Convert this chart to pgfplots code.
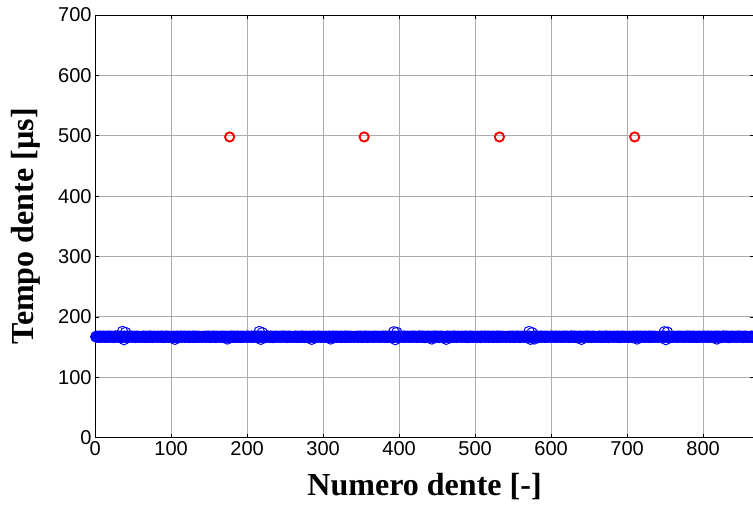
\documentclass[border=0pt]{standalone}
\usepackage{fontspec}
\setmainfont{Liberation Serif}
\newfontfamily\arialf{Liberation Sans}
\usepackage{pgfplots}
\pgfplotsset{compat=1.18}
\begin{document}
\begin{tikzpicture}
\begin{axis}[name=ax, scale only axis, width=658pt, height=422pt,
  xmin=0, xmax=867, ymin=0, ymax=700,
  xtick={0,100,...,800}, ytick={0,100,...,700},
  grid=major, grid style={gray!65, line width=0.8pt},
  tick align=inside, major tick length=4pt,
  axis line style={black, line width=1pt}, tick style={black, line width=0.6pt},
  ticklabel style={font=\arialf\fontsize{20}{24}\selectfont},
  /pgf/number format/assume math mode=true,
  xlabel={\bfseries Numero dente [-]}, ylabel={\bfseries Tempo dente [µs]},
  label style={font=\fontsize{32}{38}\selectfont},
  xlabel style={at={(axis description cs:0.5,-0.1374)}, anchor=base},
  ylabel style={at={(axis description cs:-0.1049,0.5)}, anchor=center},
  clip=true]
\addplot[only marks, mark=o, mark size=5.3pt, blue, mark options={line width=1pt}] coordinates {
(1,167.0) (2,167.6) (3,166.5) (4,167.2) (5,166.8) (6,167.9) (7,166.3) (8,167.4) (9,167.1) (10,166.6) (11,167.8) (12,166.9) (13,167.3) (14,166.2) (15,167.5) (16,167.0) (17,166.7) (18,168.0) (19,166.4) (20,167.3)
(21,166.9) (22,167.7) (23,166.6) (24,167.1) (25,166.1) (26,167.6) (27,168.1) (28,166.8) (29,167.2) (30,166.4) (31,167.9) (32,166.7) (33,167.5) (34,165.9) (35,167.1) (36,167.4) (37,166.5) (38,167.8) (39,166.6) (40,167.4)
(41,167.2) (42,166.8) (43,167.5) (44,166.3) (45,167.7) (46,166.9) (47,167.1) (48,168.0) (49,166.5) (50,167.3) (51,166.7) (52,167.6) (53,166.2) (54,167.4) (55,166.9) (56,167.8) (57,166.4) (58,167.2) (59,167.0) (60,166.6)
(61,166.7) (62,167.4) (63,166.9) (64,167.8) (65,166.2) (66,167.3) (67,166.6) (68,167.5) (69,167.0) (70,166.3) (71,167.7) (72,166.8) (73,167.9) (74,166.5) (75,167.2) (76,166.1) (77,167.6) (78,166.9) (79,167.4) (80,166.8)
(81,167.3) (82,166.5) (83,167.7) (84,166.9) (85,167.1) (86,166.4) (87,167.8) (88,166.7) (89,167.4) (90,166.0) (91,167.5) (92,167.1) (93,166.6) (94,167.9) (95,166.8) (96,167.3) (97,166.3) (98,167.6) (99,166.9) (100,167.2)
(101,166.8) (102,167.5) (103,166.4) (104,167.6) (105,166.9) (106,167.2) (107,166.1) (108,167.8) (109,166.7) (110,167.4) (111,167.0) (112,166.5) (113,167.9) (114,166.6) (115,167.3) (116,166.9) (117,167.7) (118,166.2) (119,167.5) (120,167.0)
(121,167.1) (122,166.6) (123,167.8) (124,166.3) (125,167.4) (126,167.0) (127,166.7) (128,167.6) (129,166.2) (130,167.9) (131,166.8) (132,167.3) (133,166.5) (134,167.7) (135,167.1) (136,166.4) (137,167.5) (138,166.9) (139,167.2) (140,166.7)
(141,166.6) (142,167.3) (143,167.0) (144,166.8) (145,167.7) (146,166.2) (147,167.5) (148,166.9) (149,167.8) (150,166.5) (151,167.1) (152,166.3) (153,167.6) (154,167.0) (155,166.7) (156,167.9) (157,166.6) (158,167.4) (159,166.1) (160,167.5)
(161,167.4) (162,166.9) (163,167.2) (164,166.5) (165,167.6) (166,167.1) (167,166.4) (168,167.8) (169,166.8) (170,167.3) (171,166.6) (172,167.7) (173,166.9) (174,167.0) (175,166.3) (176,167.5) (177,167.2) (178,166.7) (179,167.9) (180,166.6)
(181,166.9) (182,167.8) (183,166.3) (184,167.5) (185,166.7) (186,167.0) (187,167.9) (188,166.4) (189,167.2) (190,166.8) (191,167.6) (192,166.1) (193,167.4) (194,166.9) (195,167.7) (196,166.5) (197,167.1) (198,167.3) (199,166.6) (200,167.8)
(201,167.0) (202,167.6) (203,166.5) (204,167.2) (205,166.8) (206,167.9) (207,166.3) (208,167.4) (209,167.1) (210,166.6) (211,167.8) (212,166.9) (213,167.3) (214,166.2) (215,167.5) (216,167.0) (217,166.7) (218,168.0) (219,166.4) (220,167.3)
(221,166.9) (222,167.7) (223,166.6) (224,167.1) (225,166.1) (226,167.6) (227,168.1) (228,166.8) (229,167.2) (230,166.4) (231,167.9) (232,166.7) (233,167.5) (234,165.9) (235,167.1) (236,167.4) (237,166.5) (238,167.8) (239,166.6) (240,167.4)
(241,167.2) (242,166.8) (243,167.5) (244,166.3) (245,167.7) (246,166.9) (247,167.1) (248,168.0) (249,166.5) (250,167.3) (251,166.7) (252,167.6) (253,166.2) (254,167.4) (255,166.9) (256,167.8) (257,166.4) (258,167.2) (259,167.0) (260,166.6)
(261,166.7) (262,167.4) (263,166.9) (264,167.8) (265,166.2) (266,167.3) (267,166.6) (268,167.5) (269,167.0) (270,166.3) (271,167.7) (272,166.8) (273,167.9) (274,166.5) (275,167.2) (276,166.1) (277,167.6) (278,166.9) (279,167.4) (280,166.8)
(281,167.3) (282,166.5) (283,167.7) (284,166.9) (285,167.1) (286,166.4) (287,167.8) (288,166.7) (289,167.4) (290,166.0) (291,167.5) (292,167.1) (293,166.6) (294,167.9) (295,166.8) (296,167.3) (297,166.3) (298,167.6) (299,166.9) (300,167.2)
(301,166.8) (302,167.5) (303,166.4) (304,167.6) (305,166.9) (306,167.2) (307,166.1) (308,167.8) (309,166.7) (310,167.4) (311,167.0) (312,166.5) (313,167.9) (314,166.6) (315,167.3) (316,166.9) (317,167.7) (318,166.2) (319,167.5) (320,167.0)
(321,167.1) (322,166.6) (323,167.8) (324,166.3) (325,167.4) (326,167.0) (327,166.7) (328,167.6) (329,166.2) (330,167.9) (331,166.8) (332,167.3) (333,166.5) (334,167.7) (335,167.1) (336,166.4) (337,167.5) (338,166.9) (339,167.2) (340,166.7)
(341,166.6) (342,167.3) (343,167.0) (344,166.8) (345,167.7) (346,166.2) (347,167.5) (348,166.9) (349,167.8) (350,166.5) (351,167.1) (352,166.3) (353,167.6) (354,167.0) (355,166.7) (356,167.9) (357,166.6) (358,167.4) (359,166.1) (360,167.5)
(361,167.4) (362,166.9) (363,167.2) (364,166.5) (365,167.6) (366,167.1) (367,166.4) (368,167.8) (369,166.8) (370,167.3) (371,166.6) (372,167.7) (373,166.9) (374,167.0) (375,166.3) (376,167.5) (377,167.2) (378,166.7) (379,167.9) (380,166.6)
(381,166.9) (382,167.8) (383,166.3) (384,167.5) (385,166.7) (386,167.0) (387,167.9) (388,166.4) (389,167.2) (390,166.8) (391,167.6) (392,166.1) (393,167.4) (394,166.9) (395,167.7) (396,166.5) (397,167.1) (398,167.3) (399,166.6) (400,167.8)
(401,167.0) (402,167.6) (403,166.5) (404,167.2) (405,166.8) (406,167.9) (407,166.3) (408,167.4) (409,167.1) (410,166.6) (411,167.8) (412,166.9) (413,167.3) (414,166.2) (415,167.5) (416,167.0) (417,166.7) (418,168.0) (419,166.4) (420,167.3)
(421,166.9) (422,167.7) (423,166.6) (424,167.1) (425,166.1) (426,167.6) (427,168.1) (428,166.8) (429,167.2) (430,166.4) (431,167.9) (432,166.7) (433,167.5) (434,165.9) (435,167.1) (436,167.4) (437,166.5) (438,167.8) (439,166.6) (440,167.4)
(441,167.2) (442,166.8) (443,167.5) (444,166.3) (445,167.7) (446,166.9) (447,167.1) (448,168.0) (449,166.5) (450,167.3) (451,166.7) (452,167.6) (453,166.2) (454,167.4) (455,166.9) (456,167.8) (457,166.4) (458,167.2) (459,167.0) (460,166.6)
(461,166.7) (462,167.4) (463,166.9) (464,167.8) (465,166.2) (466,167.3) (467,166.6) (468,167.5) (469,167.0) (470,166.3) (471,167.7) (472,166.8) (473,167.9) (474,166.5) (475,167.2) (476,166.1) (477,167.6) (478,166.9) (479,167.4) (480,166.8)
(481,167.3) (482,166.5) (483,167.7) (484,166.9) (485,167.1) (486,166.4) (487,167.8) (488,166.7) (489,167.4) (490,166.0) (491,167.5) (492,167.1) (493,166.6) (494,167.9) (495,166.8) (496,167.3) (497,166.3) (498,167.6) (499,166.9) (500,167.2)
(501,166.8) (502,167.5) (503,166.4) (504,167.6) (505,166.9) (506,167.2) (507,166.1) (508,167.8) (509,166.7) (510,167.4) (511,167.0) (512,166.5) (513,167.9) (514,166.6) (515,167.3) (516,166.9) (517,167.7) (518,166.2) (519,167.5) (520,167.0)
(521,167.1) (522,166.6) (523,167.8) (524,166.3) (525,167.4) (526,167.0) (527,166.7) (528,167.6) (529,166.2) (530,167.9) (531,166.8) (532,167.3) (533,166.5) (534,167.7) (535,167.1) (536,166.4) (537,167.5) (538,166.9) (539,167.2) (540,166.7)
(541,166.6) (542,167.3) (543,167.0) (544,166.8) (545,167.7) (546,166.2) (547,167.5) (548,166.9) (549,167.8) (550,166.5) (551,167.1) (552,166.3) (553,167.6) (554,167.0) (555,166.7) (556,167.9) (557,166.6) (558,167.4) (559,166.1) (560,167.5)
(561,167.4) (562,166.9) (563,167.2) (564,166.5) (565,167.6) (566,167.1) (567,166.4) (568,167.8) (569,166.8) (570,167.3) (571,166.6) (572,167.7) (573,166.9) (574,167.0) (575,166.3) (576,167.5) (577,167.2) (578,166.7) (579,167.9) (580,166.6)
(581,166.9) (582,167.8) (583,166.3) (584,167.5) (585,166.7) (586,167.0) (587,167.9) (588,166.4) (589,167.2) (590,166.8) (591,167.6) (592,166.1) (593,167.4) (594,166.9) (595,167.7) (596,166.5) (597,167.1) (598,167.3) (599,166.6) (600,167.8)
(601,167.0) (602,167.6) (603,166.5) (604,167.2) (605,166.8) (606,167.9) (607,166.3) (608,167.4) (609,167.1) (610,166.6) (611,167.8) (612,166.9) (613,167.3) (614,166.2) (615,167.5) (616,167.0) (617,166.7) (618,168.0) (619,166.4) (620,167.3)
(621,166.9) (622,167.7) (623,166.6) (624,167.1) (625,166.1) (626,167.6) (627,168.1) (628,166.8) (629,167.2) (630,166.4) (631,167.9) (632,166.7) (633,167.5) (634,165.9) (635,167.1) (636,167.4) (637,166.5) (638,167.8) (639,166.6) (640,167.4)
(641,167.2) (642,166.8) (643,167.5) (644,166.3) (645,167.7) (646,166.9) (647,167.1) (648,168.0) (649,166.5) (650,167.3) (651,166.7) (652,167.6) (653,166.2) (654,167.4) (655,166.9) (656,167.8) (657,166.4) (658,167.2) (659,167.0) (660,166.6)
(661,166.7) (662,167.4) (663,166.9) (664,167.8) (665,166.2) (666,167.3) (667,166.6) (668,167.5) (669,167.0) (670,166.3) (671,167.7) (672,166.8) (673,167.9) (674,166.5) (675,167.2) (676,166.1) (677,167.6) (678,166.9) (679,167.4) (680,166.8)
(681,167.3) (682,166.5) (683,167.7) (684,166.9) (685,167.1) (686,166.4) (687,167.8) (688,166.7) (689,167.4) (690,166.0) (691,167.5) (692,167.1) (693,166.6) (694,167.9) (695,166.8) (696,167.3) (697,166.3) (698,167.6) (699,166.9) (700,167.2)
(701,166.8) (702,167.5) (703,166.4) (704,167.6) (705,166.9) (706,167.2) (707,166.1) (708,167.8) (709,166.7) (710,167.4) (711,167.0) (712,166.5) (713,167.9) (714,166.6) (715,167.3) (716,166.9) (717,167.7) (718,166.2) (719,167.5) (720,167.0)
(721,167.1) (722,166.6) (723,167.8) (724,166.3) (725,167.4) (726,167.0) (727,166.7) (728,167.6) (729,166.2) (730,167.9) (731,166.8) (732,167.3) (733,166.5) (734,167.7) (735,167.1) (736,166.4) (737,167.5) (738,166.9) (739,167.2) (740,166.7)
(741,166.6) (742,167.3) (743,167.0) (744,166.8) (745,167.7) (746,166.2) (747,167.5) (748,166.9) (749,167.8) (750,166.5) (751,167.1) (752,166.3) (753,167.6) (754,167.0) (755,166.7) (756,167.9) (757,166.6) (758,167.4) (759,166.1) (760,167.5)
(761,167.4) (762,166.9) (763,167.2) (764,166.5) (765,167.6) (766,167.1) (767,166.4) (768,167.8) (769,166.8) (770,167.3) (771,166.6) (772,167.7) (773,166.9) (774,167.0) (775,166.3) (776,167.5) (777,167.2) (778,166.7) (779,167.9) (780,166.6)
(781,166.9) (782,167.8) (783,166.3) (784,167.5) (785,166.7) (786,167.0) (787,167.9) (788,166.4) (789,167.2) (790,166.8) (791,167.6) (792,166.1) (793,167.4) (794,166.9) (795,167.7) (796,166.5) (797,167.1) (798,167.3) (799,166.6) (800,167.8)
(801,167.0) (802,167.6) (803,166.5) (804,167.2) (805,166.8) (806,167.9) (807,166.3) (808,167.4) (809,167.1) (810,166.6) (811,167.8) (812,166.9) (813,167.3) (814,166.2) (815,167.5) (816,167.0) (817,166.7) (818,168.0) (819,166.4) (820,167.3)
(821,166.9) (822,167.7) (823,166.6) (824,167.1) (825,166.1) (826,167.6) (827,168.1) (828,166.8) (829,167.2) (830,166.4) (831,167.9) (832,166.7) (833,167.5) (834,165.9) (835,167.1) (836,167.4) (837,166.5) (838,167.8) (839,166.6) (840,167.4)
(841,167.2) (842,166.8) (843,167.5) (844,166.3) (845,167.7) (846,166.9) (847,167.1) (848,168.0) (849,166.5) (850,167.3) (851,166.7) (852,167.6) (853,166.2) (854,167.4) (855,166.9) (856,167.8) (857,166.4) (858,167.2) (859,167.0) (860,166.6)
(861,166.7) (862,167.4) (863,166.9) (864,167.8) (865,166.2) (866,167.3) (867,166.6) (868,167.5)
(36,175.5) (38,162.5) (40,174.0) (216,175.5) (218,163.0) (220,173.5) (393,175.0) (395,162.5) (397,174.0)
(571,175.5) (573,163.0) (575,173.5) (749,175.0) (751,162.5) (753,174.5)
(105,163.0) (174,163.5) (285,163.0) (310,163.5) (443,163.5) (462,163.0) (578,163.5) (640,163.0) (713,163.5) (818,163.5)
};
\addplot[only marks, mark=o, mark size=4.6pt, red, mark options={line width=1.9pt}] coordinates {
(177,498) (354,498) (532,498) (710,498)
};
\end{axis}
\pgfresetboundingbox
\path ([shift={(-95pt,-68pt)}]ax.south west) rectangle ([shift={(-1pt,15pt)}]ax.north east);
\end{tikzpicture}
\end{document}
